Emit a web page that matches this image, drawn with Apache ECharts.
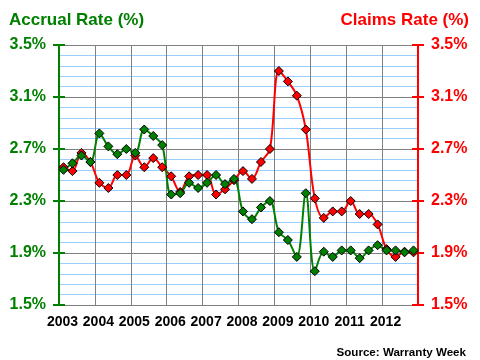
<!DOCTYPE html>
<html><head><meta charset="utf-8">
<script src="https://cdn.jsdelivr.net/npm/echarts@6/dist/echarts.min.js"></script>
<style>html,body{margin:0;padding:0;background:#fff}#c{width:480px;height:360px}</style>
</head><body><div id="c"></div>
<script>
// Data (quarterly, 2003 Q1 .. 2012 Q4)
const years = [2003, 2004, 2005, 2006, 2007, 2008, 2009, 2010, 2011, 2012];
const quartersPerYear = 4;
const accrualRate = [2.54, 2.59, 2.65, 2.60, 2.82, 2.72, 2.66, 2.70, 2.67, 2.85, 2.80, 2.73,
  2.35, 2.36, 2.44, 2.40, 2.44, 2.50, 2.43, 2.47, 2.22, 2.16, 2.25, 2.30,
  2.06, 2.00, 1.87, 2.36, 1.76, 1.91, 1.87, 1.92, 1.92, 1.86, 1.92, 1.96,
  1.92, 1.92, 1.905, 1.92];
const claimsRate = [2.56, 2.53, 2.67, 2.60, 2.44, 2.40, 2.50, 2.50, 2.65, 2.56, 2.63, 2.56,
  2.49, 2.37, 2.49, 2.50, 2.50, 2.35, 2.39, 2.46, 2.53, 2.47, 2.60, 2.70,
  3.30, 3.22, 3.11, 2.85, 2.32, 2.17, 2.22, 2.22, 2.30, 2.20, 2.20, 2.12,
  1.93, 1.87, 1.91, 1.905];
const yMin = 1.5, yMax = 3.5, yStep = 0.4;

const FONT = '"Liberation Sans", Arial, sans-serif';
const GREEN = '#008000', RED = '#FF0000';

const toPoints = arr => arr.map((v, i) => [years[0] + (i + 0.5) / quartersPerYear, v]);
const xEnd = years[years.length - 1] + 1;

const yBase = {
  type: 'value', min: yMin, max: yMax, interval: yStep
};

const chart = echarts.init(document.getElementById('c'), null, {renderer: 'canvas'});
chart.setOption({
  animation: false,
  backgroundColor: '#fff',
  title: [
    {text: 'Accrual Rate (%)', left: 4, top: 5,
     textStyle: {color: GREEN, fontFamily: FONT, fontWeight: 'bold', fontSize: 17, lineHeight: 20}},
    {text: 'Claims Rate (%)', right: 6, top: 5,
     textStyle: {color: RED, fontFamily: FONT, fontWeight: 'bold', fontSize: 17, lineHeight: 20}},
    {text: 'Source: Warranty Week', right: 9, top: 340,
     textStyle: {color: '#000', fontFamily: FONT, fontWeight: 'bold', fontSize: 11.6, lineHeight: 16}}
  ],
  grid: {left: 59, right: 62, top: 45, bottom: 55, containLabel: false},
  xAxis: {
    type: 'value', min: years[0], max: xEnd, interval: 1,
    axisLine: {show: true, lineStyle: {color: '#808080', width: 1}},
    axisTick: {show: false},
    axisLabel: {
      color: '#000', fontFamily: FONT, fontWeight: 'bold', fontSize: 14, margin: 10,
      padding: [0, 0, 0, 7],
      formatter: v => (v >= xEnd ? '' : String(v))
    },
    splitLine: {show: true, lineStyle: {color: '#808080', width: 1}}
  },
  yAxis: [
    Object.assign({}, yBase, {
      position: 'left',
      axisLine: {show: true, onZero: false, lineStyle: {color: GREEN, width: 2}},
      axisTick: {show: true, length: 6, lineStyle: {color: GREEN, width: 2}},
      axisLabel: {color: GREEN, fontFamily: FONT, fontWeight: 'bold', fontSize: 16, margin: 13,
        formatter: v => v.toFixed(1) + '%'},
      splitLine: {show: true, lineStyle: {color: '#808080', width: 1}},
      minorTick: {show: false, splitNumber: 5},
      minorSplitLine: {show: true, lineStyle: {color: '#99CCFF', width: 1}}
    }),
    Object.assign({}, yBase, {
      position: 'right',
      axisLine: {show: true, onZero: false, lineStyle: {color: RED, width: 2}},
      axisTick: {show: true, length: 6, lineStyle: {color: RED, width: 2}},
      axisLabel: {color: RED, fontFamily: FONT, fontWeight: 'bold', fontSize: 16, margin: 13,
        formatter: v => v.toFixed(1) + '%'},
      splitLine: {show: false}
    }),
    Object.assign({}, yBase, {
      position: 'left',
      axisLine: {show: false},
      axisTick: {show: true, inside: true, length: 6, lineStyle: {color: GREEN, width: 2}},
      axisLabel: {show: false},
      splitLine: {show: false}
    }),
    Object.assign({}, yBase, {
      position: 'right',
      axisLine: {show: false},
      axisTick: {show: true, inside: true, length: 6, lineStyle: {color: RED, width: 2}},
      axisLabel: {show: false},
      splitLine: {show: false}
    })
  ],
  series: [
    {
      name: 'Claims Rate', type: 'line', yAxisIndex: 1, data: toPoints(claimsRate),
      smooth: 0.35, symbol: 'diamond', symbolSize: 9, showSymbol: true,
      lineStyle: {color: RED, width: 2},
      itemStyle: {color: RED, borderColor: '#000', borderWidth: 1}
    },
    {
      name: 'Accrual Rate', type: 'line', yAxisIndex: 0, data: toPoints(accrualRate),
      smooth: 0.35, symbol: 'diamond', symbolSize: 9, showSymbol: true,
      lineStyle: {color: GREEN, width: 2},
      itemStyle: {color: GREEN, borderColor: '#000', borderWidth: 1}
    }
  ]
});
</script></body></html>
